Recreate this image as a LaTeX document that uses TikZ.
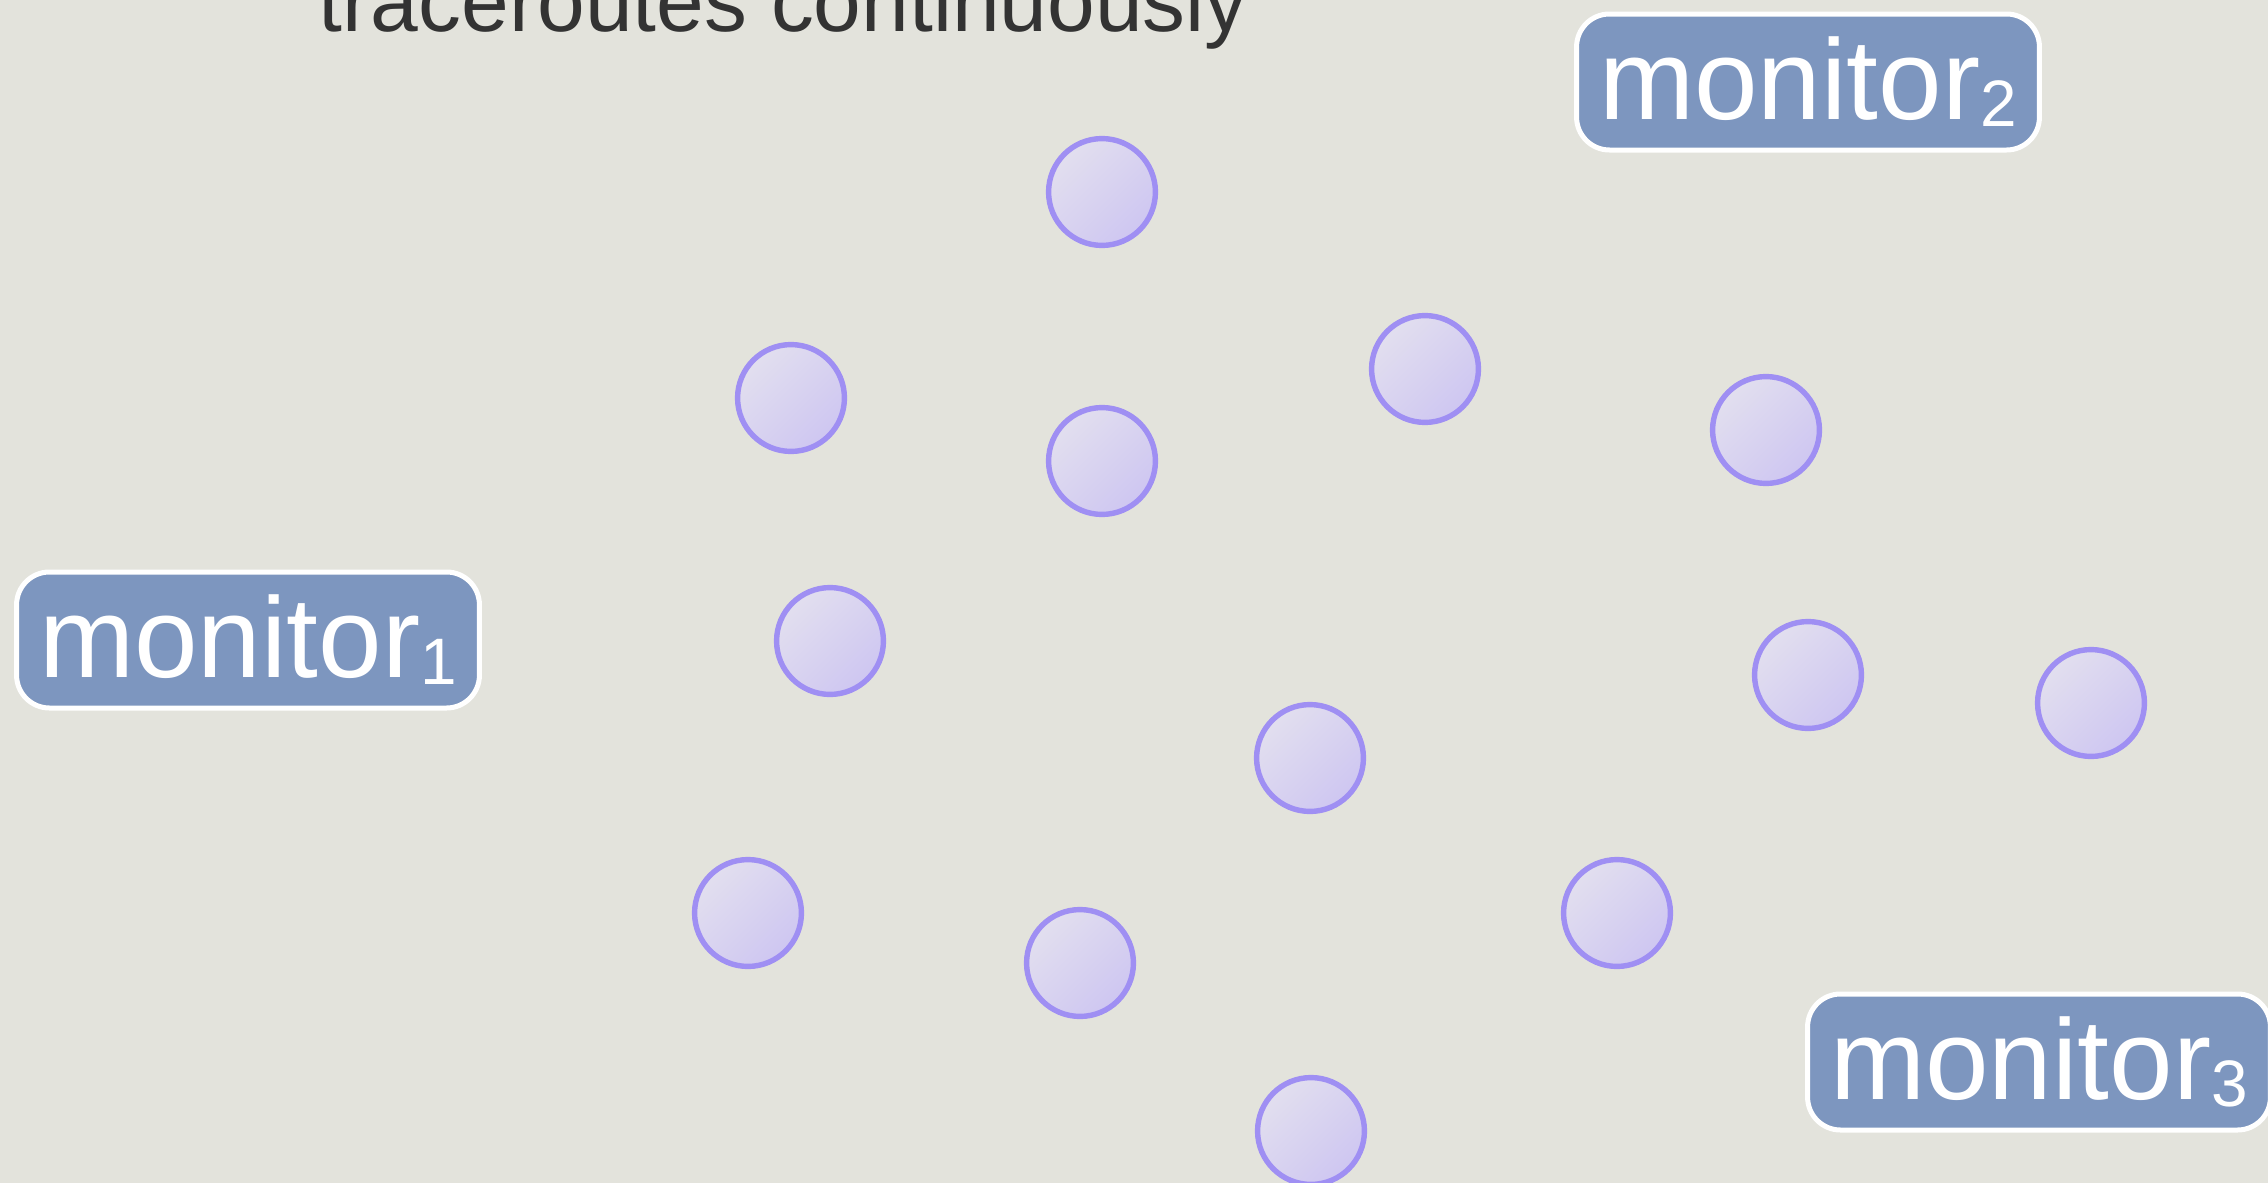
\documentclass[tikz,border=0pt]{standalone}
\usepackage{fontspec}
\setmainfont{Liberation Sans}
\definecolor{bgc}{HTML}{E3E3DC}
\definecolor{boxc}{HTML}{7D96BF}
\definecolor{ringc}{HTML}{9F8FF3}
\definecolor{nodeA}{HTML}{E2DFEF}
\definecolor{nodeB}{HTML}{CEC6F1}
\definecolor{txtc}{HTML}{333333}
\begin{document}
\begin{tikzpicture}[x=0.35pt,y=-0.35pt,
  router/.style={circle, draw=ringc, line width=1.9pt, minimum size=37.4pt, inner sep=0pt,
    top color=nodeA, bottom color=nodeB, shading angle=45},
  monbox/.style={rectangle, rounded corners=11.5pt, draw=white, line width=1.75pt, fill=boxc,
    minimum width=162pt, minimum height=47.6pt, inner sep=0pt, text=white,
    font=\fontsize{40}{42}\selectfont}]
\fill[bgc] (0,0) rectangle (2268,1183);
\useasboundingbox (0,0) rectangle (2268,1183);
\node[anchor=base west, text=txtc, font=\fontsize{30}{32}\selectfont, inner sep=0pt] (title) at (318,31) {traceroutes continuously};
\newcommand{\monsub}[1]{{\fontsize{23}{24}\selectfont\raisebox{-2.5pt}{#1}}}
\node[monbox] (m1) at (248,640) {monitor\monsub{1}};
\node[monbox] (m2) at (1808,82) {monitor\monsub{2}};
\node[monbox] (m3) at (2039,1062) {monitor\monsub{3}};
\node[router] (r1) at (1102,192) {};
\node[router] (r2) at (791,398) {};
\node[router] (r3) at (1102,461) {};
\node[router] (r4) at (1425,369) {};
\node[router] (r5) at (1766,430) {};
\node[router] (r6) at (830,641) {};
\node[router] (r7) at (1808,675) {};
\node[router] (r8) at (2091,703) {};
\node[router] (r9) at (1310,758) {};
\node[router] (r10) at (748,913) {};
\node[router] (r11) at (1617,913) {};
\node[router] (r12) at (1080,963) {};
\node[router] (r13) at (1311,1131) {};
\end{tikzpicture}
\end{document}
